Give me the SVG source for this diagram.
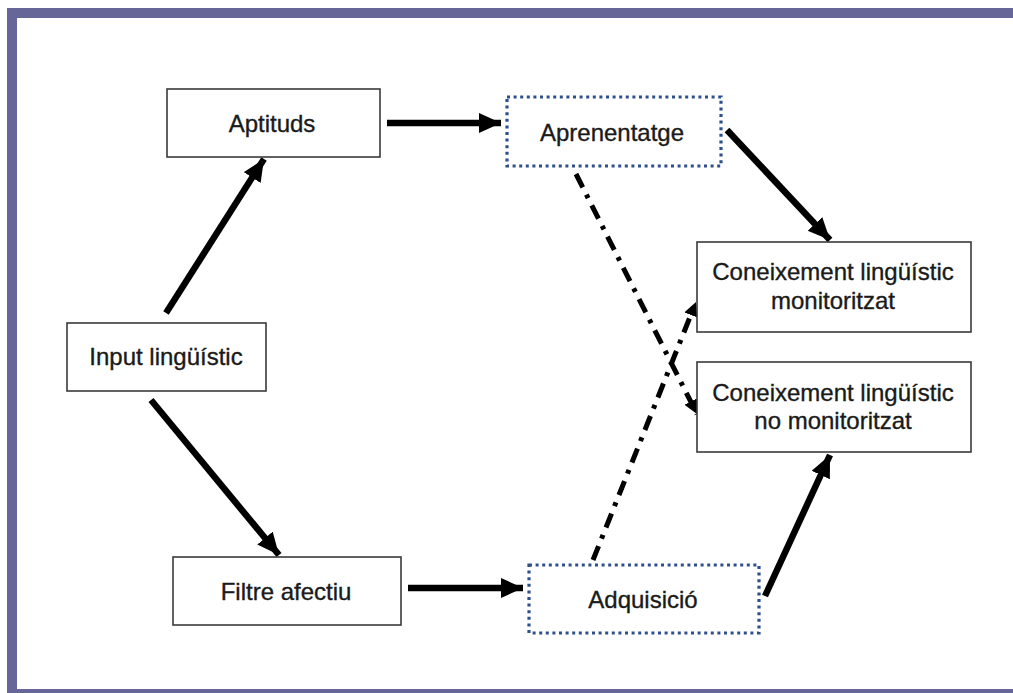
<svg xmlns="http://www.w3.org/2000/svg" width="1013" height="693" viewBox="0 0 1013 693">
  <style>
    .box { fill: #ffffff; stroke: #3a3a3a; stroke-width: 1.6; }
    .dotbox { fill: #ffffff; stroke: #2e4f8c; stroke-width: 3.2; stroke-dasharray: 3 3.6; }
    .lbl { font-family: "Liberation Sans", Arial, sans-serif; font-size: 24px; fill: #1a1a1a; stroke: #1a1a1a; stroke-width: 0.35; text-anchor: middle; }
    .solid { stroke: #000; stroke-width: 6.5; fill: none; marker-end: url(#head); }
    .dashdot { stroke: #000; stroke-width: 5; fill: none; stroke-dasharray: 15 8 4 8; marker-end: url(#smallhead); }
  </style>
  <defs>
    <marker id="head" markerUnits="userSpaceOnUse" markerWidth="24" markerHeight="22" refX="22" refY="10" orient="auto">
      <path d="M0,0 L22,10 L0,20 Z" fill="#000"/>
    </marker>
    <marker id="smallhead" markerUnits="userSpaceOnUse" markerWidth="16" markerHeight="16" refX="14" refY="7" orient="auto">
      <path d="M0,0 L14,7 L0,14 Z" fill="#000"/>
    </marker>
  </defs>

  <!-- frame -->
  <rect x="7" y="8" width="1006" height="685" fill="#666699"/>
  <rect x="17" y="18" width="996" height="671" fill="#ffffff"/>

  <!-- connectors -->
  <g id="connectors">
    <line class="solid" x1="166" y1="313" x2="264" y2="159"/>
    <line class="solid" x1="151" y1="400" x2="279" y2="555"/>
    <line class="solid" x1="387" y1="123" x2="501" y2="123"/>
    <line class="solid" x1="408" y1="588" x2="523" y2="588"/>
    <line class="solid" x1="727" y1="130" x2="830" y2="240"/>
    <line class="solid" x1="765" y1="596" x2="830" y2="455"/>
    <line class="dashdot" x1="576" y1="174" x2="697" y2="414"/>
    <line class="dashdot" x1="593" y1="560" x2="696" y2="302"/>
  </g>

  <g id="aptituds">
    <rect class="box" x="167" y="89" width="213" height="68"/>
    <text class="lbl" x="272" y="132">Aptituds</text>
  </g>

  <g id="aprenentatge">
    <rect class="dotbox" x="507" y="97" width="214" height="69"/>
    <text class="lbl" x="612" y="141">Aprenentatge</text>
  </g>

  <g id="input">
    <rect class="box" x="67" y="323" width="199" height="68"/>
    <text class="lbl" x="166" y="365">Input lingüístic</text>
  </g>

  <g id="filtre">
    <rect class="box" x="173" y="557" width="228" height="68"/>
    <text class="lbl" x="286" y="600">Filtre afectiu</text>
  </g>

  <g id="adquisicio">
    <rect class="dotbox" x="529" y="565" width="230" height="68"/>
    <text class="lbl" x="643" y="608">Adquisició</text>
  </g>

  <g id="monitoritzat">
    <rect class="box" x="697" y="242" width="274" height="90"/>
    <text class="lbl" x="833" y="280">Coneixement lingüístic</text>
    <text class="lbl" x="833" y="309">monitoritzat</text>
  </g>

  <g id="no-monitoritzat">
    <rect class="box" x="697" y="362" width="274" height="90"/>
    <text class="lbl" x="833" y="401">Coneixement lingüístic</text>
    <text class="lbl" x="833" y="429">no monitoritzat</text>
  </g>
</svg>
